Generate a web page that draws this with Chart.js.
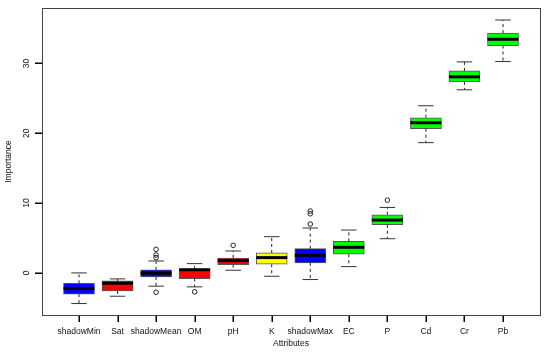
<!DOCTYPE html>
<html>
<head>
<meta charset="utf-8">
<script src="https://cdn.jsdelivr.net/npm/chart.js@4.4.1/dist/chart.umd.min.js"></script>
<style>
  html, body { margin: 0; padding: 0; background: #fff; }
  #wrap { width: 550px; height: 355px; }
</style>
</head>
<body>
<div id="wrap"><canvas id="chart"></canvas></div>
<script>
// Boruta importance boxplot values
const attributes = ['shadowMin', 'Sat', 'shadowMean', 'OM', 'pH', 'K', 'shadowMax', 'EC', 'P', 'Cd', 'Cr', 'Pb'];
const whiskerLow  = [-4.39, -3.34, -1.90, -2.00, 0.38, -0.48, -0.95, 0.90, 4.90, 18.66, 26.23, 30.28];
const lowerQuart  = [-3.05, -2.57, -0.57, -0.81, 1.19, 1.24, 1.43, 2.67, 6.90, 20.66, 27.37, 32.57];
const medians     = [-2.24, -1.48, -0.05, 0.45, 1.76, 2.19, 2.52, 3.67, 7.57, 21.51, 28.09, 33.47];
const upperQuart  = [-1.50, -1.14, 0.43, 0.57, 2.14, 2.86, 3.47, 4.52, 8.33, 22.23, 28.94, 34.37];
const whiskerHigh = [0.00, -0.86, 1.71, 1.33, 3.14, 5.19, 6.43, 6.14, 9.38, 23.94, 30.23, 36.23];
const outliers    = [[], [], [3.38, 2.57, 2.19, -2.77], [-2.71], [3.95], [], [8.86, 8.47, 7.00], [], [10.43], [], [], []];
const yTicks = [0, 10, 20, 30];

// decision colours: shadow = blue, rejected = red, tentative = yellow, confirmed = green
const boxColors = ['#0000ff', '#ff0000', '#0000ff', '#ff0000', '#ff0000', '#ffff00', '#0000ff', '#00ff00', '#00ff00', '#00ff00', '#00ff00', '#00ff00'];

const FONT = '"Liberation Sans", Arial, Helvetica, sans-serif';
const BOX_W = 31;

const boxData = attributes.map((a, i) => ({ x: i + 1, y: [lowerQuart[i], upperQuart[i]] }));
const outlierData = [];
outliers.forEach((list, i) => list.forEach(v => outlierData.push({ x: i + 1, y: v })));

// whiskers, medians, frame, tick marks and rotated y labels
const boxplotExtras = {
  id: 'boxplotExtras',
  afterDraw(chart) {
    const ctx = chart.ctx;
    const xs = chart.scales.x;
    const ys = chart.scales.y;
    const area = chart.chartArea;
    ctx.save();
    attributes.forEach((a, i) => {
      const cx = xs.getPixelForValue(i + 1);
      const half = BOX_W / 2;
      const pLo = ys.getPixelForValue(whiskerLow[i]);
      const pQ1 = ys.getPixelForValue(lowerQuart[i]);
      const pQ3 = ys.getPixelForValue(upperQuart[i]);
      const pHi = ys.getPixelForValue(whiskerHigh[i]);
      const pMed = ys.getPixelForValue(medians[i]);

      // dashed whiskers
      ctx.strokeStyle = '#222';
      ctx.lineWidth = 1;
      ctx.setLineDash([3, 3]);
      ctx.beginPath();
      ctx.moveTo(cx, pQ3); ctx.lineTo(cx, pHi);
      ctx.moveTo(cx, pQ1); ctx.lineTo(cx, pLo);
      ctx.stroke();
      ctx.setLineDash([]);

      // staples
      ctx.strokeStyle = '#333';
      ctx.beginPath();
      ctx.moveTo(cx - half / 2, pHi); ctx.lineTo(cx + half / 2, pHi);
      ctx.moveTo(cx - half / 2, pLo); ctx.lineTo(cx + half / 2, pLo);
      ctx.stroke();

      // median
      ctx.strokeStyle = '#000';
      ctx.lineWidth = 3;
      ctx.beginPath();
      ctx.moveTo(cx - half, pMed); ctx.lineTo(cx + half, pMed);
      ctx.stroke();
    });

    // plot frame
    ctx.strokeStyle = '#444';
    ctx.lineWidth = 1;
    ctx.strokeRect(area.left + 0.5, area.top + 0.5, area.right - area.left, area.bottom - area.top);

    // tick marks
    ctx.fillStyle = '#000';
    attributes.forEach((a, i) => {
      const px = Math.round(xs.getPixelForValue(i + 1));
      ctx.fillRect(px - 0.5, Math.round(area.bottom) + 1, 1.5, 6);
    });
    yTicks.forEach(t => {
      const py = Math.round(ys.getPixelForValue(t));
      ctx.fillRect(Math.round(area.left) - 7, py - 0.5, 7, 1.5);
    });

    // rotated y tick labels, as R draws them
    ctx.fillStyle = '#111';
    ctx.font = '8.5px ' + FONT;
    ctx.textAlign = 'center';
    ctx.textBaseline = 'middle';
    yTicks.forEach(t => {
      const py = ys.getPixelForValue(t);
      ctx.save();
      ctx.translate(27, py);
      ctx.rotate(-Math.PI / 2);
      ctx.fillText(String(t), 0, 0);
      ctx.restore();
    });
    ctx.restore();
  }
};

new Chart(document.getElementById('chart'), {
  type: 'bar',
  data: {
    datasets: [
      {
        type: 'bar',
        data: boxData,
        backgroundColor: boxColors,
        borderColor: '#555',
        borderWidth: 1,
        borderSkipped: false,
        barThickness: BOX_W,
        grouped: false
      },
      {
        type: 'scatter',
        data: outlierData,
        pointStyle: 'circle',
        pointRadius: 2.3,
        backgroundColor: 'rgba(0,0,0,0)',
        borderColor: '#222',
        borderWidth: 1
      }
    ]
  },
  options: {
    responsive: true,
    maintainAspectRatio: false,
    animation: false,
    events: [],
    layout: { padding: { top: 8, right: 10, left: 0, bottom: 0 } },
    plugins: {
      legend: { display: false },
      tooltip: { enabled: false }
    },
    scales: {
      x: {
        type: 'linear',
        offset: false,
        min: 0.04,
        max: 12.96,
        afterBuildTicks: s => { s.ticks = attributes.map((a, i) => ({ value: i + 1 })); },
        afterFit: s => { s.height = 40; },
        grid: { display: false, offset: false, tickLength: 5 },
        border: { display: false },
        ticks: {
          autoSkip: false,
          maxRotation: 0,
          minRotation: 0,
          padding: 7,
          color: '#111',
          font: { family: FONT, size: 8.5 },
          callback: v => attributes[v - 1] || ''
        },
        title: {
          display: true,
          text: 'Attributes',
          color: '#111',
          font: { family: FONT, size: 8.5 },
          padding: { top: 0, bottom: 6 }
        }
      },
      y: {
        min: -6.03,
        max: 37.95,
        afterBuildTicks: s => { s.ticks = yTicks.map(v => ({ value: v })); },
        afterFit: s => { s.width = 42; },
        grid: { display: false },
        border: { display: false },
        ticks: { display: false },
        title: {
          display: true,
          text: 'Importance',
          color: '#111',
          font: { family: FONT, size: 8.5 },
          padding: { top: 4, bottom: 0 }
        }
      }
    }
  },
  plugins: [boxplotExtras]
});
</script>
</body>
</html>
